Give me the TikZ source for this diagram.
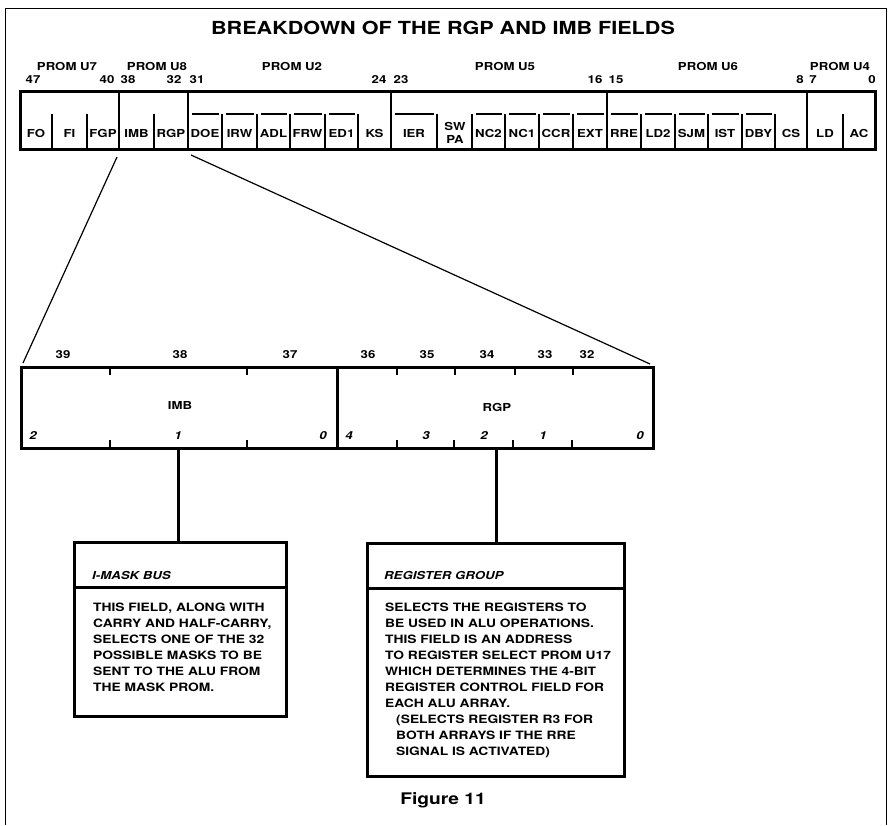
\documentclass[tikz,border=0pt]{standalone}
\usepackage{fontspec}
\setmainfont[FakeStretch=1.2]{TeX Gyre Heros}
\newcommand\ftitle{\fontsize{18}{20}\selectfont\bfseries}
\newcommand\ffield{\fontsize{11}{13}\selectfont\bfseries}
\newcommand\fbody{\fontsize{11.5}{16}\selectfont\bfseries}
\newcommand\fhead{\fontsize{11}{13}\selectfont\bfseries\itshape}
\newcommand\ffig{\fontsize{16}{18}\selectfont\bfseries}
\begin{document}
\begin{tikzpicture}[x=1pt,y=-1pt,
  heavy/.style={line width=3pt},
  major/.style={line width=2pt},
  minor/.style={line width=1.4pt},
  thinline/.style={line width=1.2pt},
  lbl/.style={font=\ffield,inner sep=0pt},
  ilbl/.style={font=\fhead,inner sep=0pt},
  body/.style={font=\fbody,inner sep=0pt,align=left,anchor=north west}]
\useasboundingbox (0,0) rectangle (888,825);
% frame
\draw[line width=1pt] (5,825) -- (5,8) -- (886,8) -- (886,825);
\node[font=\ftitle,inner sep=0pt] (title) at (443,28) {BREAKDOWN OF THE RGP AND IMB FIELDS};
% PROM labels
\foreach \x/\t/\n in {67/PROM U7/p7,157/PROM U8/p8,292/PROM U2/p2,505/PROM U5/p5,708/PROM U6/p6,840/PROM U4/p4}
  \node[lbl] (\n) at (\x,66) {\t};
\foreach \x/\t in {33/47,107/40,128/38,174/32,197/31,379/24,401/23,595/16,616/15,800/8,813/7,872/0}
  \node[lbl] (b\t) at (\x,80) {\t};
% register
\draw[heavy] (20,91) rectangle (875,149);
\foreach \x in {119,188,391,607,807} \draw[major] (\x,91) -- (\x,149);
\foreach \x in {52,87,154,222,257,290,325,358,437,472,505,539,573,641,675,708,742,775,843}
  \draw[minor] (\x,114) -- (\x,149);
\foreach \l/\r/\t in {20/52/FO,52/87/FI,87/119/FGP,119/154/IMB,154/188/RGP,188/222/DOE,222/257/IRW,257/290/ADL,290/325/FRW,325/358/ED1,358/391/KS,391/437/IER,472/505/NC2,505/539/NC1,539/573/CCR,573/607/EXT,607/641/RRE,641/675/LD2,675/708/SJM,708/742/IST,742/775/DBY,775/807/CS,807/843/LD,843/875/AC}
  \node[lbl] (f\t) at ({(\l+\r)/2},133) {\t};
\node[lbl] (fSW) at (455,126) {SW};
\node[lbl] (fPA) at (455,139) {PA};
\foreach \l/\r in {188/222,222/257,257/290,290/325,325/358,391/437,472/505,505/539,539/573,573/607,607/641,641/675,675/708,708/742,742/775}
  \draw[minor] ({\l+4},114) -- ({\r-3},114);
% expansion lines
\coordinate (d1a) at (117,157);
\coordinate (d1b) at (23,363);
\coordinate (d2a) at (191,155);
\coordinate (d2b) at (650,364);
\draw[thinline] (d1a) -- (d1b);
\draw[thinline] (d2a) -- (d2b);
% zoomed register
\draw[heavy] (21,367) rectangle (653,448);
\draw[heavy] (337,367) -- (337,448);
\foreach \x in {110,247,397,455,515,573} \draw[minor] (\x,367) -- (\x,375);
\foreach \x in {110,247,397,454,513,572} \draw[minor] (\x,448) -- (\x,440);
\foreach \x/\t in {63/39,180/38,290/37,368/36,427/35,487/34,545/33,587/32}
  \node[lbl] (z\t) at (\x,355) {\t};
\foreach \x/\t/\n in {33/2/a,178/1/b,323/0/c,349/4/d,426/3/e,484/2/f,543/1/g,640/0/h}
  \node[ilbl] (zb\n) at (\x,436) {\t};
\node[lbl] (zIMB) at (180,405) {IMB};
\node[lbl] (zRGP) at (497,407) {RGP};
% description boxes
\coordinate (s1a) at (178,448);
\coordinate (s1b) at (178,542);
\coordinate (s2a) at (496,448);
\coordinate (s2b) at (496,543);
\draw[heavy] (s1a) -- (s1b);
\draw[heavy] (s2a) -- (s2b);
\draw[heavy] (74,542) rectangle (286,716);
\draw[heavy] (74,587) -- (286,587);
\draw[heavy] (367,543) rectangle (624,776);
\draw[heavy] (367,588) -- (624,588);
\node[ilbl,anchor=west] (h1) at (92,575) {I-MASK BUS};
\node[ilbl,anchor=west] (h2) at (384,575) {REGISTER GROUP};
\node[body] (t1) at (93,603) {THIS FIELD, ALONG WITH\\CARRY AND HALF-CARRY,\\SELECTS ONE OF THE 32\\POSSIBLE MASKS TO BE\\SENT TO THE ALU FROM\\THE MASK PROM.};
\node[body] (t2) at (385,603) {SELECTS THE REGISTERS TO\\BE USED IN ALU OPERATIONS.\\THIS FIELD IS AN ADDRESS\\TO REGISTER SELECT PROM U17\\WHICH DETERMINES THE 4-BIT\\REGISTER CONTROL FIELD FOR\\EACH ALU ARRAY.\\\hspace*{11pt}(SELECTS REGISTER R3 FOR\\\hspace*{11pt}BOTH ARRAYS IF THE RRE\\\hspace*{11pt}SIGNAL IS ACTIVATED)};
\node[font=\ffig,inner sep=0pt] (fig) at (443,800) {Figure 11};
\end{tikzpicture}
\end{document}
